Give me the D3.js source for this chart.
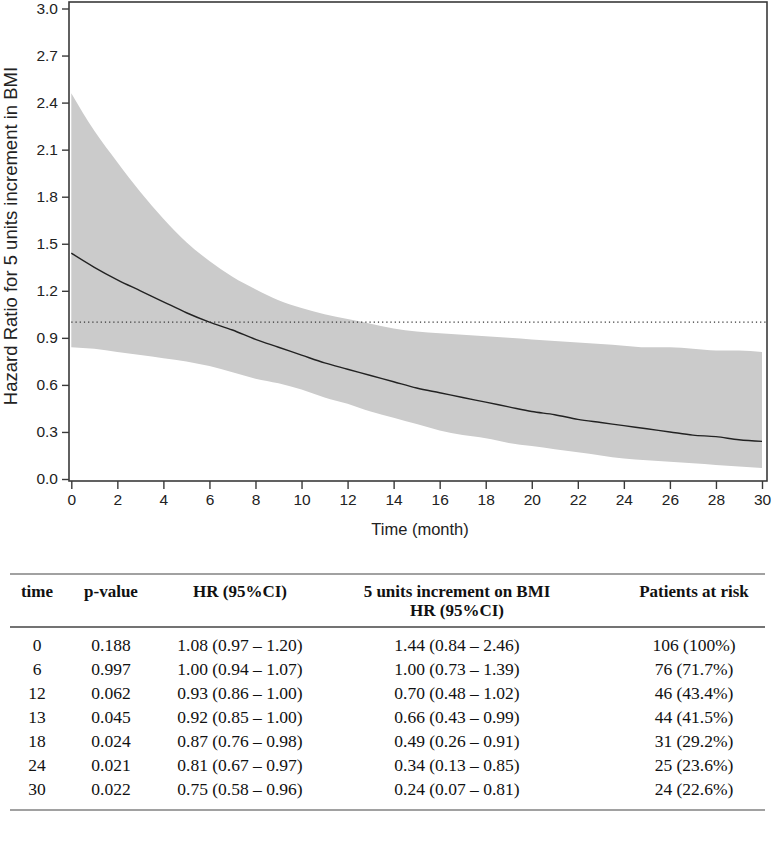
<!DOCTYPE html>
<html>
<head>
<meta charset="utf-8">
<script src="https://cdn.jsdelivr.net/npm/d3@7/dist/d3.min.js"></script>
<style>
  html, body { margin: 0; padding: 0; background: #fff; }
  svg { display: block; }
</style>
</head>
<body>
<svg id="chart" width="774" height="854"></svg>
<script>
// ---------- Data ----------
const months = [0,1,2,3,4,5,6,7,8,9,10,11,12,13,14,15,16,17,18,19,20,21,22,23,24,25,26,27,28,29,30];
const hazardRatio = [1.44,1.35,1.27,1.20,1.13,1.06,1.00,0.95,0.89,0.84,0.79,0.74,0.70,0.66,0.62,0.58,0.55,0.52,0.49,0.46,0.43,0.41,0.38,0.36,0.34,0.32,0.30,0.28,0.27,0.25,0.24];
const upperCI = [2.46,2.22,2.02,1.83,1.66,1.51,1.39,1.29,1.21,1.14,1.09,1.05,1.02,0.99,0.96,0.94,0.93,0.92,0.91,0.90,0.89,0.88,0.87,0.86,0.85,0.84,0.84,0.83,0.82,0.82,0.81];
const lowerCI = [0.84,0.83,0.81,0.79,0.77,0.75,0.72,0.68,0.64,0.61,0.57,0.52,0.48,0.43,0.39,0.35,0.31,0.28,0.26,0.23,0.21,0.19,0.17,0.15,0.13,0.12,0.11,0.10,0.09,0.08,0.07];
const referenceHR = 1.0;
const yTicks = [0.0,0.3,0.6,0.9,1.2,1.5,1.8,2.1,2.4,2.7,3.0];
const xTicks = [0,2,4,6,8,10,12,14,16,18,20,22,24,26,28,30];
const xTitle = "Time (month)";
const yTitle = "Hazard Ratio for 5 units increment in BMI";

// Table data
const tableHeaders = [["time"], ["p-value"], ["HR (95%CI)"], ["5 units increment on BMI", "HR (95%CI)"], ["Patients at risk"]];
const tableTimes = ["0","6","12","13","18","24","30"];
const tablePValues = ["0.188","0.997","0.062","0.045","0.024","0.021","0.022"];
const tableHR = ["1.08 (0.97 \u2013 1.20)","1.00 (0.94 \u2013 1.07)","0.93 (0.86 \u2013 1.00)","0.92 (0.85 \u2013 1.00)","0.87 (0.76 \u2013 0.98)","0.81 (0.67 \u2013 0.97)","0.75 (0.58 \u2013 0.96)"];
const tableBMI = ["1.44 (0.84 \u2013 2.46)","1.00 (0.73 \u2013 1.39)","0.70 (0.48 \u2013 1.02)","0.66 (0.43 \u2013 0.99)","0.49 (0.26 \u2013 0.91)","0.34 (0.13 \u2013 0.85)","0.24 (0.07 \u2013 0.81)"];
const tableRisk = ["106 (100%)","76 (71.7%)","46 (43.4%)","44 (41.5%)","31 (29.2%)","25 (23.6%)","24 (22.6%)"];

// ---------- Layout ----------
const svg = d3.select("#chart");
const frame = { left: 69, right: 767, top: 2, bottom: 481 };
const x = d3.scaleLinear().domain([0, 30]).range([71.3, 762]);
const y = d3.scaleLinear().domain([0, 3]).range([479, 8.5]);
const sansFont = "'Liberation Sans', Arial, sans-serif";
const serifFont = "'Liberation Serif', 'Times New Roman', serif";

const series = months.map((m, i) => ({ t: m, hr: hazardRatio[i], lo: lowerCI[i], hi: upperCI[i] }));

svg.append("defs").append("clipPath").attr("id", "plotclip")
  .append("rect").attr("x", frame.left).attr("y", frame.top)
  .attr("width", frame.right - frame.left).attr("height", frame.bottom - frame.top);

const plot = svg.append("g").attr("clip-path", "url(#plotclip)");

// Confidence band
plot.append("path")
  .datum(series)
  .attr("fill", "#cbcbcb")
  .attr("d", d3.area().x(d => x(d.t)).y0(d => y(d.lo)).y1(d => y(d.hi)).curve(d3.curveMonotoneX));

// Reference line
plot.append("line")
  .attr("x1", x(0)).attr("x2", frame.right)
  .attr("y1", y(referenceHR)).attr("y2", y(referenceHR))
  .attr("stroke", "#333").attr("stroke-width", 1.2)
  .attr("stroke-dasharray", "1.2,3");

// HR line
plot.append("path")
  .datum(series)
  .attr("fill", "none")
  .attr("stroke", "#222")
  .attr("stroke-width", 1.4)
  .attr("d", d3.line().x(d => x(d.t)).y(d => y(d.hr)).curve(d3.curveMonotoneX));

// Frame
svg.append("rect")
  .attr("x", frame.left).attr("y", frame.top)
  .attr("width", frame.right - frame.left).attr("height", frame.bottom - frame.top)
  .attr("fill", "none").attr("stroke", "#3a3a3a").attr("stroke-width", 1.6);

// Axes
const yAxis = svg.append("g")
  .attr("transform", `translate(${frame.left},0)`)
  .call(d3.axisLeft(y).tickValues(yTicks).tickFormat(d3.format(".1f")).tickSize(7).tickPadding(4));
const xAxis = svg.append("g")
  .attr("transform", `translate(0,${frame.bottom})`)
  .call(d3.axisBottom(x).tickValues(xTicks).tickFormat(d3.format("d")).tickSize(8).tickPadding(5));
[yAxis, xAxis].forEach(a => {
  a.select(".domain").remove();
  a.selectAll(".tick line").attr("stroke", "#3a3a3a").attr("stroke-width", 1.4);
  a.selectAll(".tick text").attr("fill", "#222").style("font-family", sansFont).style("font-size", "15.5px");
});

// Axis titles
svg.append("text")
  .attr("x", (frame.left + frame.right) / 2 + 2).attr("y", 535)
  .attr("text-anchor", "middle")
  .style("font-family", sansFont).style("font-size", "16.5px").attr("fill", "#222")
  .text(xTitle);
svg.append("text")
  .attr("transform", `translate(17,236) rotate(-90)`)
  .attr("text-anchor", "middle")
  .style("font-family", sansFont).style("font-size", "18.5px").attr("fill", "#222")
  .text(yTitle);

// ---------- Table ----------
const colCenters = [37, 111, 240, 457, 694];
const tbl = svg.append("g");
const ruleLeft = 10, ruleRight = 765;
const topRule = 574, headRule = 627, bottomRule = 810;
[topRule, headRule, bottomRule].forEach((ry, i) => {
  tbl.append("line").attr("x1", ruleLeft).attr("x2", ruleRight)
    .attr("y1", ry).attr("y2", ry)
    .attr("stroke", "#444").attr("stroke-width", i === 1 ? 1.4 : 1.2);
});

tableHeaders.forEach((lines, c) => {
  lines.forEach((ln, k) => {
    tbl.append("text")
      .attr("x", colCenters[c]).attr("y", 597 + k * 19)
      .attr("text-anchor", "middle")
      .style("font-family", serifFont).style("font-size", "17px").style("font-weight", "bold")
      .attr("fill", "#111")
      .text(ln);
  });
});

const rowY = d3.scaleBand().domain(tableTimes).range([633, 801]);
const cols = [tableTimes, tablePValues, tableHR, tableBMI, tableRisk];
tableTimes.forEach((t, r) => {
  cols.forEach((col, c) => {
    tbl.append("text")
      .attr("x", colCenters[c]).attr("y", rowY(t) + rowY.bandwidth() / 2 + 6)
      .attr("text-anchor", "middle")
      .style("font-family", serifFont).style("font-size", "17.5px")
      .attr("fill", "#111")
      .text(col[r]);
  });
});
</script>
</body>
</html>
